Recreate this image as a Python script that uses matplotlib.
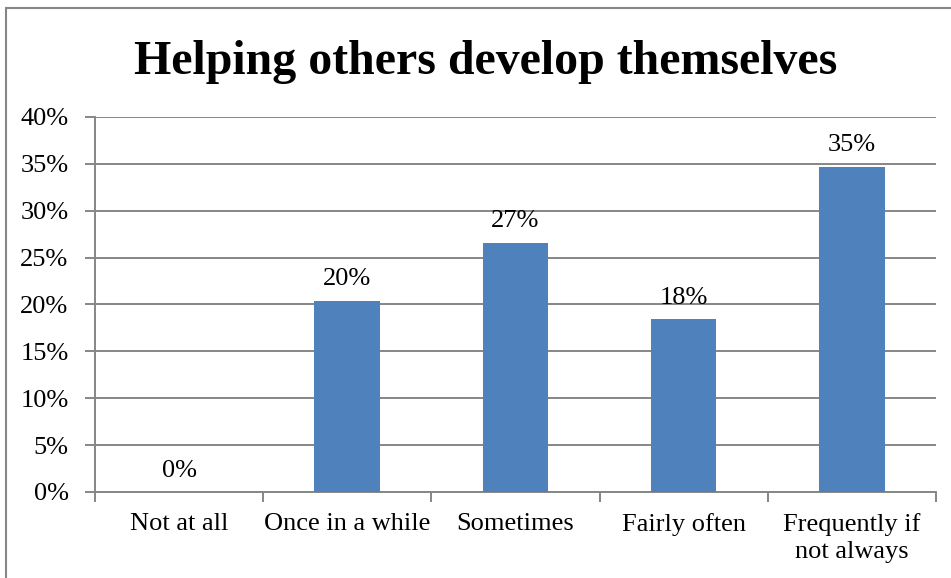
import matplotlib.pyplot as plt
from matplotlib.patches import Rectangle
from matplotlib.ticker import FuncFormatter, MultipleLocator

categories = ["Not at all", "Once in a while", "Sometimes", "Fairly often",
              "Frequently if\nnot always"]
shares = [0.0, 0.204, 0.266, 0.184, 0.347]

BAR_COLOR = "#4F81BD"
LINE_GRAY = "#868686"


def main() -> None:
    plt.rcParams["font.family"] = ["Liberation Serif", "DejaVu Serif"]

    fig = plt.figure(figsize=(9.51, 5.78), dpi=100)
    ax = fig.add_axes([0.0999, 0.1488, 0.8843, 0.6488])

    # outer chart frame (runs off the right and bottom edges)
    fig.patches.append(Rectangle((5.5 / 951, -0.1), 1.2, 1.1 - 8.5 / 578,
                                 transform=fig.transFigure, fill=False,
                                 edgecolor=LINE_GRAY, linewidth=1.5))

    x = list(range(len(categories)))
    ax.bar(x, shares, width=0.39, color=BAR_COLOR, zorder=3)
    for xi, v in zip(x, shares):
        ax.text(xi, v + 0.011, f"{v:.0%}", ha="center", va="bottom", fontsize=19)

    ax.set_xlim(-0.5, len(categories) - 0.5)
    ax.set_ylim(0, 0.40)
    ax.yaxis.set_major_locator(MultipleLocator(0.05))
    ax.yaxis.set_major_formatter(FuncFormatter(lambda v, _: f"{v:.0%}"))
    ax.grid(axis="y", color=LINE_GRAY, linewidth=1.4, zorder=0)

    ax.set_xticks([i + 0.5 for i in range(-1, len(categories))], minor=False)
    ax.set_xticklabels([])
    ax.set_xticks(x, minor=True)
    ax.set_xticklabels(categories, minor=True, fontsize=19, linespacing=1.3)
    ax.tick_params(axis="x", which="major", length=7, color=LINE_GRAY, width=1.4)
    ax.tick_params(axis="x", which="minor", length=0, pad=15)
    ax.tick_params(axis="y", length=7, color=LINE_GRAY, width=1.4,
                   labelsize=19, pad=12)

    for side in ("top", "right"):
        ax.spines[side].set_visible(False)
    for side in ("left", "bottom"):
        ax.spines[side].set_color(LINE_GRAY)
        ax.spines[side].set_linewidth(1.4)

    fig.text(0.511, 0.872, "Helping others develop themselves", ha="center",
             va="baseline", fontsize=34.5, fontweight="bold")

    fig.savefig("out.png", dpi=100)


if __name__ == "__main__":
    main()
